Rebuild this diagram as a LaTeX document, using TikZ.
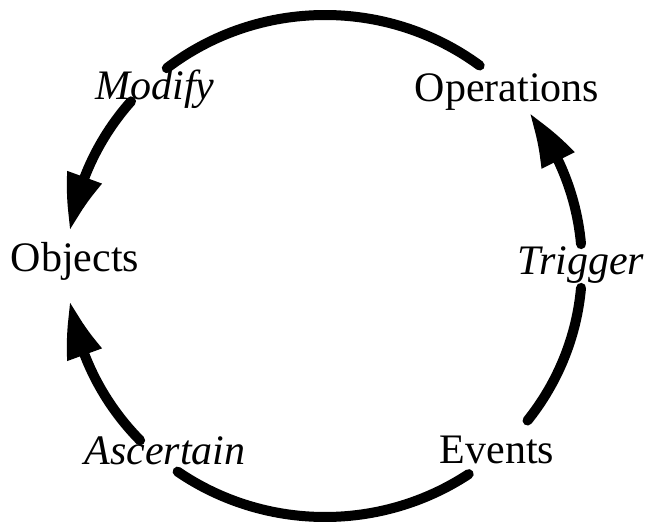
\documentclass[tikz,border=0pt]{standalone}
\usepackage{fontspec}
\setmainfont{Liberation Serif}
\usepackage{tikz}
\usetikzlibrary{arrows.meta, bending}

\tikzset{
  word/.style={anchor=base, inner sep=0pt, font=\fontsize{42}{50}\selectfont},
  verb/.style={word, font=\fontsize{42}{50}\selectfont\itshape},
  loop/.style={line width=10pt, line cap=round},
  head/.style={loop, -{Triangle[length=56pt, width=34pt, bend]}}
}

\begin{document}
\begin{tikzpicture}[x=1pt, y=1pt]
  \useasboundingbox (0,0) rectangle (645,525);
  \coordinate (hub) at (325,259);

  \node[word] (operations) at (507,423) {Operations};
  \node[word] (objects)    at (75,253)  {Objects};
  \node[word] (events)     at (497,62)  {Events};
  \node[verb] (modify)     at (155,425) {Modify};
  \node[verb] (trigger)    at (581,250) {Trigger};
  \node[verb] (ascertain)  at (165,61)  {Ascertain};

  % operations -> modify -> objects
  \draw[loop] (hub) ++(53:257 and 251)
    arc[start angle=53, end angle=128, x radius=257, y radius=251];
  \draw[head] (hub) ++(139:257 and 251)
    arc[start angle=139, end angle=172, x radius=257, y radius=251];
  % events -> ascertain -> objects
  \draw[loop] (hub) ++(-56:257 and 251)
    arc[start angle=-56, end angle=-125, x radius=257, y radius=251];
  \draw[head] (hub) ++(224:257 and 251)
    arc[start angle=224, end angle=188, x radius=257, y radius=251];
  % events -> trigger -> operations
  \draw[loop] (hub) ++(-38:257 and 251)
    arc[start angle=-38, end angle=-5, x radius=257, y radius=251];
  \draw[head] (hub) ++(5:257 and 251)
    arc[start angle=5, end angle=37.5, x radius=257, y radius=251];
\end{tikzpicture}
\end{document}
